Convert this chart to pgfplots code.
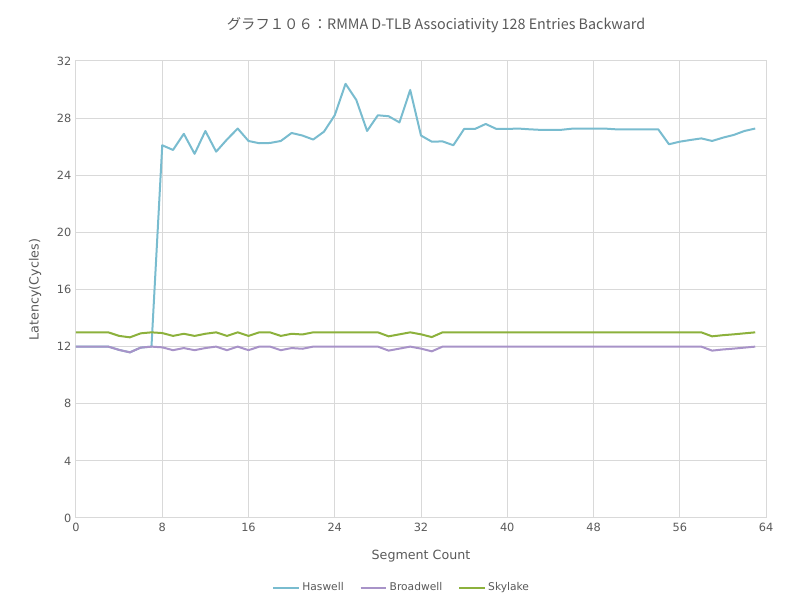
\documentclass[border=0pt]{standalone}
\usepackage{fontspec}
\setmainfont{DejaVu Sans}
\newfontfamily\cjk{Noto Sans CJK JP}
\usepackage{pgfplots}
\pgfplotsset{compat=1.18}
\usepackage{pgfplotstable}

\definecolor{haswell}{HTML}{79BCCF}
\definecolor{broadwell}{HTML}{A893C8}
\definecolor{skylake}{HTML}{8CB13C}
\definecolor{gridgray}{HTML}{D9D9D9}
\definecolor{txtgray}{HTML}{595959}

% x = segment count, h = Haswell, b = Broadwell, s = Skylake
\pgfplotstableread{
x  h     b     s
0  12    12    13
1  12    12    13
2  12    12    13
3  12    12    13
4  11.77 11.77 12.75
5  11.6  11.6  12.65
6  11.93 11.93 12.93
7  12    12    13
8  26.1  11.95 12.95
9  25.77 11.75 12.75
10 26.9  11.9  12.9
11 25.5  11.75 12.75
12 27.1  11.9  12.9
13 25.65 12    13
14 26.5  11.75 12.75
15 27.27 12    13
16 26.4  11.75 12.75
17 26.24 12    13
18 26.26 12    13
19 26.4  11.75 12.75
20 26.96 11.9  12.9
21 26.78 11.85 12.85
22 26.5  12    13
23 27.05 12    13
24 28.2  12    13
25 30.4  12    13
26 29.27 12    13
27 27.1  12    13
28 28.2  12    13
29 28.13 11.72 12.72
30 27.7  11.86 12.86
31 29.97 12    13
32 26.78 11.86 12.86
33 26.35 11.67 12.67
34 26.37 12    13
35 26.1  12    13
36 27.24 12    13
37 27.24 12    13
38 27.59 12    13
39 27.24 12    13
40 27.24 12    13
41 27.27 12    13
42 27.22 12    13
43 27.18 12    13
44 27.17 12    13
45 27.18 12    13
46 27.26 12    13
47 27.27 12    13
48 27.27 12    13
49 27.27 12    13
50 27.22 12    13
51 27.22 12    13
52 27.22 12    13
53 27.22 12    13
54 27.22 12    13
55 26.17 12    13
56 26.35 12    13
57 26.47 12    13
58 26.58 12    13
59 26.4  11.72 12.72
60 26.63 11.8  12.8
61 26.82 11.86 12.86
62 27.1  11.93 12.93
63 27.27 12    13
}\latency

\begin{document}
\begin{tikzpicture}
\path[use as bounding box] (-57pt,-71.25pt) rectangle (543pt,388.5pt);
\begin{axis}[
  scale only axis,
  width=517.5pt, height=342.75pt,
  xmin=0, xmax=64, ymin=0, ymax=32,
  xtick={0,8,...,64}, ytick={0,4,...,32},
  grid=major,
  grid style={draw=gridgray, line width=0.75pt},
  axis line style={draw=gridgray, line width=0.75pt},
  tick style={draw=none},
  /pgf/number format/assume math mode=true,
  ticklabel style={font=\fontsize{8.5}{10}\selectfont, text=txtgray},
  xlabel={Segment Count},
  ylabel={Latency(Cycles)},
  label style={font=\fontsize{9.5}{11}\selectfont, text=txtgray},
  xlabel style={at={(axis description cs:0.5,-0.0832)}, anchor=center},
  ylabel style={at={(axis description cs:-0.0594,0.5)}, anchor=center},
  legend columns=3,
  legend style={at={(axis description cs:0.4725,-0.153)}, anchor=center,
    draw=none, font=\fontsize{8}{10}\selectfont, text=txtgray,
    /tikz/every even column/.append style={column sep=10pt}},
  legend image code/.code={\draw[#1] (0pt,0pt) -- (19pt,0pt);},
  every axis plot/.append style={line width=1.5pt, line join=round, no markers},
]
\addplot[haswell] table[x=x, y=h] {\latency};
\addlegendentry{Haswell}
\addplot[broadwell] table[x=x, y=b] {\latency};
\addlegendentry{Broadwell}
\addplot[skylake] table[x=x, y=s] {\latency};
\addlegendentry{Skylake}
\end{axis}
\node[font=\cjk\fontsize{10.75}{13}\selectfont, text=txtgray] at (270pt,369.75pt)
  {グラフ１０６：RMMA D-TLB Associativity 128 Entries Backward};
\end{tikzpicture}
\end{document}
